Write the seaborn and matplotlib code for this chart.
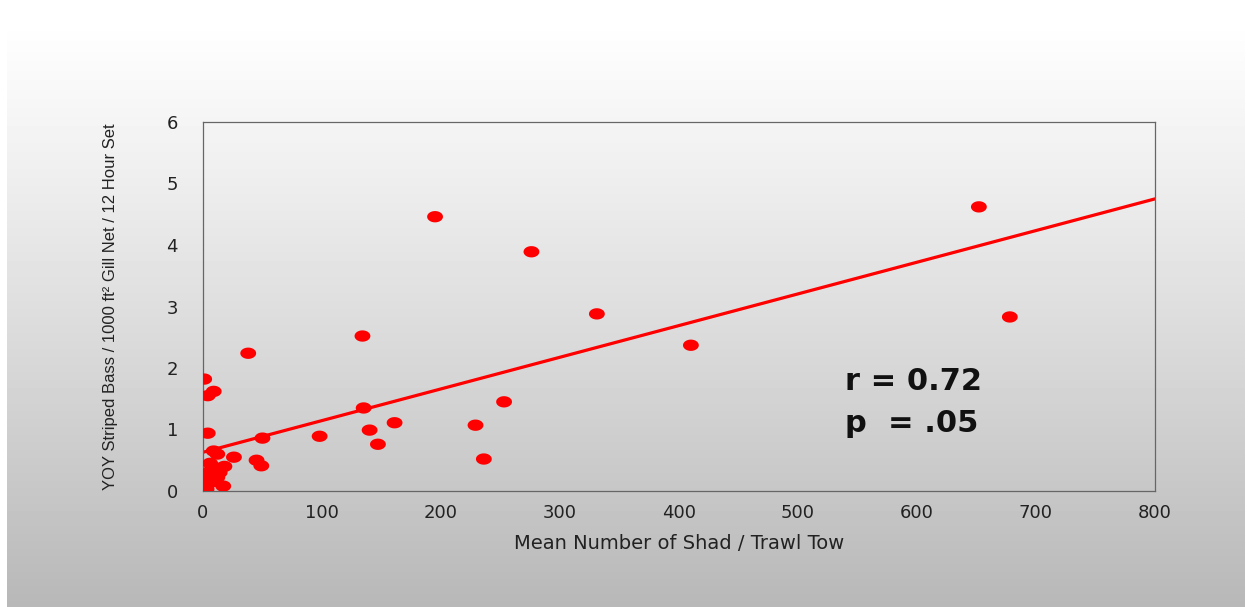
import numpy as np
import matplotlib
matplotlib.use("Agg")
import matplotlib.pyplot as plt
from matplotlib.path import Path
import seaborn as sns
import pandas as pd

# datos
shad = [652, 678, 195, 276, 331, 410, 134, 38, 253, 229, 236, 135, 140, 147,
        161, 98, 50, 45, 49, 26,
        1, 9, 4, 4, 9, 12, 0, 0, 3, 6, 10, 14, 18, 17, 8, 12, 6]
bass = [4.62, 2.83, 4.46, 3.89, 2.88, 2.37, 2.52, 2.24, 1.45, 1.07, 0.52, 1.35,
        0.99, 0.76, 1.11, 0.89, 0.86, 0.50, 0.41, 0.55,
        1.82, 1.62, 1.55, 0.94, 0.65, 0.60, 0.27, 0.15, 0.03, 0.45, 0.38, 0.30,
        0.40, 0.08, 0.15, 0.22, 0.32]
line_x = [0, 800]
intercept, slope = 0.63, 0.00515
x_ticks = [0, 100, 200, 300, 400, 500, 600, 700, 800]
y_ticks = [0, 1, 2, 3, 4, 5, 6]
stats_text = ["r = 0.72", "p  = .05"]

df = pd.DataFrame({"shad": shad, "bass": bass})
fit = pd.DataFrame({"x": line_x, "y": [intercept + slope * v for v in line_x]})

sns.set_style("white")
plt.rcParams["font.family"] = ["DejaVu Sans"]

fig = plt.figure(figsize=(12.51, 6.07), dpi=100)

# fondo degradado (blanco arriba, gris abajo)
bg = fig.add_axes([0, 0, 1, 1], zorder=-10)
H, W = 607, 1251
rows = np.linspace(0, 1, H)
g = np.clip(1.0 - 0.28 * ((rows - 0.03) / 0.97).clip(0) ** 1.1, 0, 1)
img = np.repeat(g[:, None], W, axis=1)
img[:, :7] = 1.0
img[:, W - 6:] = 1.0
img[:18, :] = 1.0
bg.imshow(img, cmap="gray", vmin=0, vmax=1, aspect="auto", interpolation="bilinear")
bg.axis("off")

ax = fig.add_axes([203 / W, 116 / H, 952 / W, 369 / H])
ax.patch.set_alpha(0)

# marcador eliptico
t = np.linspace(0, 2 * np.pi, 60)
ellipse = Path(np.column_stack([1.4 * np.cos(t), np.sin(t)]), closed=True)

sns.lineplot(data=fit, x="x", y="y", color="#ff0000", lw=2.3, ax=ax, zorder=2)
sns.scatterplot(data=df, x="shad", y="bass", marker=ellipse, s=130,
                color="#ff0000", edgecolor="none", ax=ax, zorder=3)

ax.set_xlim(0, 800)
ax.set_ylim(0, 6)
ax.set_xticks(x_ticks)
ax.set_yticks(y_ticks)
ax.tick_params(axis="both", direction="in", length=10, width=0.8,
               color="#666666", labelsize=13, labelcolor="#222222")
ax.tick_params(axis="y", pad=18)
ax.tick_params(axis="x", pad=9)
for s in ax.spines.values():
    s.set_color("#666666")
    s.set_linewidth(0.9)

ax.set_xlabel("Mean Number of Shad / Trawl Tow", fontsize=14, color="#222222",
              labelpad=9)
ax.set_ylabel("YOY Striped Bass / 1000 ft² Gill Net / 12 Hour Set",
              fontsize=12, color="#222222", labelpad=35,
              family=["Liberation Sans"])

ax.text(0.674, 0.274, stats_text[0], transform=ax.transAxes, fontsize=22,
        fontweight="bold", color="#111111", va="baseline")
ax.text(0.674, 0.160, stats_text[1], transform=ax.transAxes, fontsize=22,
        fontweight="bold", color="#111111", va="baseline")

fig.savefig("out.png", dpi=100)
